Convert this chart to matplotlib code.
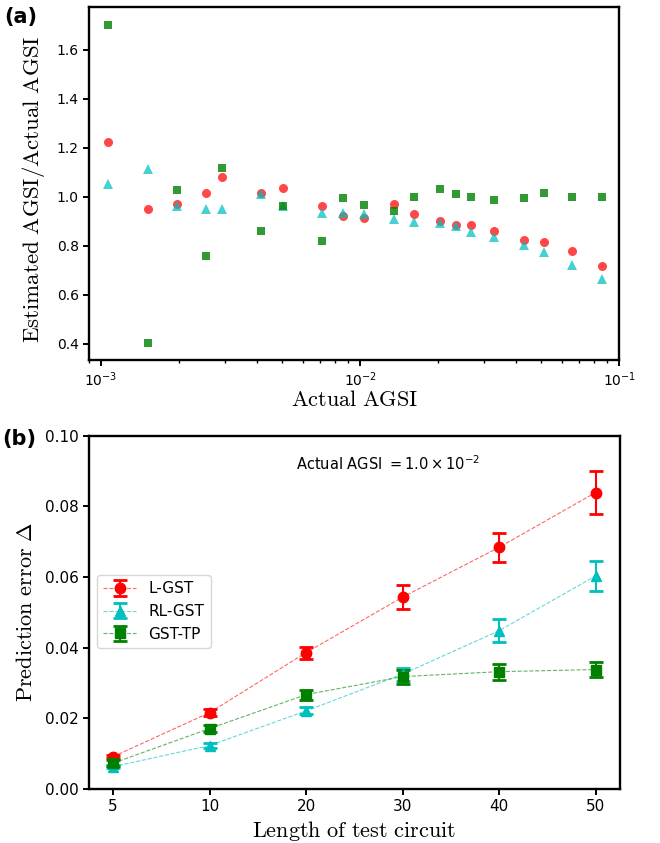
import matplotlib
matplotlib.use("Agg")
import matplotlib.pyplot as plt
import matplotlib.colors as mcolors
import numpy as np

# ---------- Panel (a) data ----------
actual_agsi = [1.067e-3, 1.52e-3, 1.96e-3, 2.53e-3, 2.94e-3, 4.13e-3, 5.02e-3,
               7.09e-3, 8.6e-3, 1.033e-2, 1.35e-2, 1.61e-2, 2.04e-2, 2.34e-2,
               2.67e-2, 3.27e-2, 4.29e-2, 5.13e-2, 6.56e-2, 8.54e-2]
ratio_lgst = [1.222, 0.949, 0.969, 1.016, 1.078, 1.016, 1.037, 0.962, 0.922, 0.912,
              0.969, 0.929, 0.901, 0.884, 0.884, 0.861, 0.823, 0.816, 0.776, 0.718]
ratio_rlgst = [1.051, 1.112, 0.963, 0.949, 0.949, 1.011, 0.962, 0.932, 0.932, 0.929,
               0.909, 0.896, 0.891, 0.878, 0.855, 0.834, 0.803, 0.773, 0.721, 0.664]
ratio_gsttp = [1.701, 0.404, 1.027, 0.758, 1.116, 0.861, 0.962, 0.820, 0.993, 0.966,
               0.943, 1.000, 1.033, 1.010, 1.000, 0.987, 0.993, 1.014, 0.998, 0.998]

# ---------- Panel (b) data ----------
circuit_lengths = ["5", "10", "20", "30", "40", "50"]
err_lgst = [0.00915, 0.0216, 0.0386, 0.0543, 0.0684, 0.0839]
err_lgst_sd = [0.0005, 0.001, 0.0017, 0.0033, 0.0041, 0.0060]
err_rlgst = [0.0063, 0.0123, 0.0221, 0.0325, 0.0448, 0.0603]
err_rlgst_sd = [0.0005, 0.0008, 0.001, 0.0018, 0.0033, 0.0043]
err_gsttp = [0.0073, 0.0171, 0.0267, 0.0318, 0.0332, 0.0338]
err_gsttp_sd = [0.0008, 0.0011, 0.0014, 0.002, 0.0023, 0.0021]
series_labels = ["L-GST", "RL-GST", "GST-TP"]

plt.rcParams['font.family'] = ['DejaVu Sans']
plt.rcParams['axes.linewidth'] = 1.7
plt.rcParams['xtick.major.width'] = 1.4
plt.rcParams['ytick.major.width'] = 1.4
plt.rcParams['xtick.minor.width'] = 1.0
plt.rcParams['xtick.major.size'] = 4
plt.rcParams['ytick.major.size'] = 4
plt.rcParams['xtick.minor.size'] = 2.5

fig = plt.figure(figsize=(6.6, 8.43), dpi=100)
ax1 = fig.add_axes([0.1353, 0.573, 0.803, 0.4184])
ax2 = fig.add_axes([0.1348, 0.0641, 0.8042, 0.4191])

# ---------- Panel (a) ----------
ax1.plot(actual_agsi, ratio_lgst, 'o', color='r', alpha=0.72, markersize=6.5, markeredgewidth=0)
ax1.plot(actual_agsi, ratio_rlgst, '^', color='c', alpha=0.72, markersize=6.5, markeredgewidth=0)
ax1.plot(actual_agsi, ratio_gsttp, 's', color='g', alpha=0.8, markersize=6.3, markeredgewidth=0)
ax1.set_xscale('log')
ax1.set_xlim(9.0e-4, 0.1)
ax1.set_ylim(0.333, 1.773)
ax1.set_yticks([0.4, 0.6, 0.8, 1.0, 1.2, 1.4, 1.6])
ax1.tick_params(labelsize=10)
ax1.set_xlabel(r'$\mathrm{Actual\ AGSI}$', fontsize=16, math_fontfamily='cm', labelpad=1)
ax1.set_ylabel(r'$\mathrm{Estimated\ AGSI/Actual\ AGSI}$', fontsize=16.5, math_fontfamily='cm',
               labelpad=7, y=0.485)

# ---------- Panel (b) ----------
xpos = np.arange(len(circuit_lengths))
for vals, sds, fmt, col, lab in [(err_lgst, err_lgst_sd, 'o', 'r', series_labels[0]),
                                 (err_rlgst, err_rlgst_sd, '^', 'c', series_labels[1]),
                                 (err_gsttp, err_gsttp_sd, 's', 'g', series_labels[2])]:
    cont = ax2.errorbar(xpos, vals, yerr=sds, fmt=fmt, linestyle='--', linewidth=0.8,
                        color=col, ecolor=col, label=lab, capsize=5, capthick=2,
                        elinewidth=1.5, markersize=7.5)
    data_line = cont.lines[0]
    data_line.set_color(mcolors.to_rgba(col, 0.6))
    data_line.set_markerfacecolor(col)
    data_line.set_markeredgecolor(col)
ax2.set_xticks(xpos)
ax2.set_xticklabels(circuit_lengths)
ax2.set_xlim(-0.25, 5.25)
ax2.set_ylim(0, 0.1)
ax2.set_yticks([0.0, 0.02, 0.04, 0.06, 0.08, 0.10])
ax2.tick_params(labelsize=11)
ax2.set_xlabel(r'$\mathrm{Length\ of\ test\ circuit}$', fontsize=16, math_fontfamily='cm', labelpad=3)
ax2.set_ylabel(r'$\mathrm{Prediction\ error}\ \Delta$', fontsize=16, math_fontfamily='cm', labelpad=6)
ax2.text(0.39, 0.92, r'Actual AGSI $= 1.0 \times 10^{-2}$', transform=ax2.transAxes,
         fontsize=10.5, ha='left', va='center', math_fontfamily='dejavusans')
ax2.legend(loc='center left', bbox_to_anchor=(0.0, 0.502), fontsize=11, handlelength=2.2,
           framealpha=0.8)

fig.text(0.006, 0.992, '(a)', fontsize=15, fontweight='bold', va='top', ha='left')
fig.text(0.003, 0.491, '(b)', fontsize=15, fontweight='bold', va='top', ha='left')

fig.savefig('out.png', dpi=100)
